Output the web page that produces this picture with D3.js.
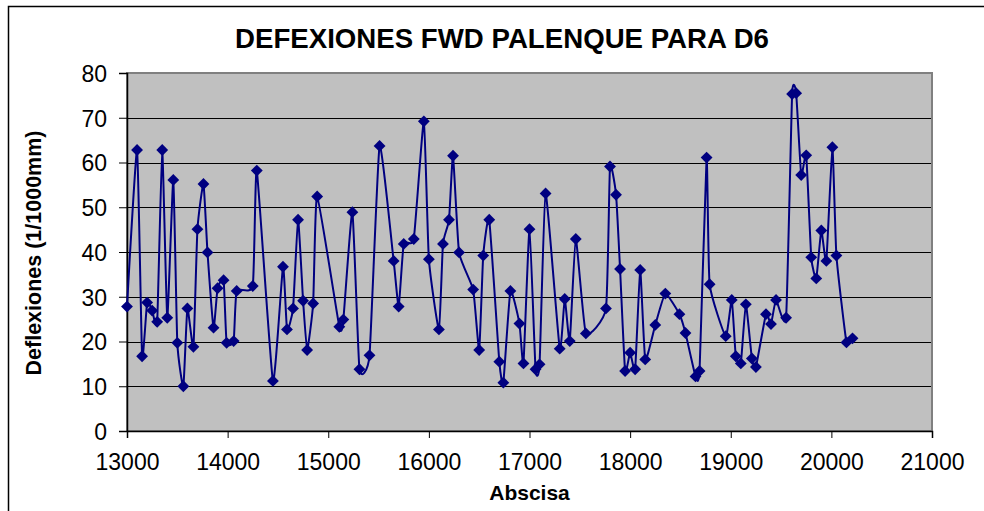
<!DOCTYPE html>
<html>
<head>
<meta charset="utf-8">
<script src="https://cdn.jsdelivr.net/npm/d3@7"></script>
<style>
  body { margin: 0; background: #fff; }
  text { font-family: "Liberation Sans", Arial, sans-serif; fill: #000; }
</style>
</head>
<body>
<svg id="chart" width="984" height="511"></svg>
<script>
// Abscisa (m) of each FWD station
var abscisa = [13000,13100,13150,13200,13250,13300,13350,13400,13460,13500,
  13560,13600,13660,13700,13760,13800,13860,13900,13960,13990,
  14060,14090,14250,14290,14450,14550,14590,14650,14700,14750,
  14790,14850,14890,15110,15150,15240,15310,15410,15510,15650,
  15700,15750,15850,15950,16000,16100,16140,16200,16240,16300,
  16440,16500,16540,16600,16700,16740,16810,16900,16940,17000,
  17060,17100,17160,17300,17350,17400,17460,17560,17760,17800,
  17860,17900,17950,18000,18050,18100,18150,18250,18350,18490,
  18550,18650,18690,18760,18790,18950,19010,19050,19100,19150,
  19210,19250,19350,19400,19450,19550,19610,19650,19700,19750,
  19800,19850,19900,19950,20010,20050,20150,20210];

// Deflexion D6 (1/1000 mm)
var deflexiones = [27.8,62.8,16.7,28.7,26.9,24.4,62.8,25.3,56.1,19.7,
  10.0,27.4,18.8,45.1,55.2,39.9,23.1,31.9,33.7,19.7,
  20.1,31.3,32.4,58.2,11.2,36.7,22.7,27.4,47.2,29.1,
  18.1,28.5,52.4,23.3,24.9,48.9,13.8,16.9,63.7,38.0,
  27.8,41.8,42.9,69.2,38.4,22.7,41.8,47.2,61.5,39.9,
  31.6,18.1,39.2,47.2,15.5,10.8,31.3,24.0,15.1,45.1,
  13.8,14.9,53.1,18.4,29.5,20.1,42.9,21.8,27.4,59.1,
  52.8,36.2,13.4,17.5,13.8,36.0,16.0,23.7,30.7,26.1,
  21.9,12.2,13.4,61.1,32.8,21.2,29.3,16.7,15.1,28.3,
  16.2,14.3,26.1,23.9,29.3,25.3,75.3,75.5,57.2,61.6,
  38.8,34.1,44.8,38.0,63.4,39.2,19.8,20.7];

var xTicks = [13000,14000,15000,16000,17000,18000,19000,20000,21000];
var yTicks = [0,10,20,30,40,50,60,70,80];

var svg = d3.select("#chart");
var plotLeft = 127, plotRight = 932, plotTop = 73, plotBottom = 431;

//outer chart border
svg.append("rect")
  .attr("x", 8.5).attr("y", 6.5)
  .attr("width", 990).attr("height", 520)
  .attr("fill", "#fff").attr("stroke", "#000").attr("stroke-width", 1.5);

var x = d3.scaleLinear().domain([13000, 21000]).range([plotLeft, plotRight]);
var y = d3.scaleLinear().domain([0, 80]).range([plotBottom, plotTop]);

//plot area
svg.append("rect")
  .attr("x", plotLeft).attr("y", plotTop)
  .attr("width", plotRight - plotLeft).attr("height", plotBottom - plotTop)
  .attr("fill", "#c0c0c0");

//gridlines
svg.append("g").selectAll("line")
  .data(yTicks.slice(1, -1))
  .enter().append("line")
  .attr("x1", plotLeft).attr("x2", plotRight)
  .attr("y1", function(d){ return Math.round(y(d)) + 0.5; })
  .attr("y2", function(d){ return Math.round(y(d)) + 0.5; })
  .attr("stroke", "#000").attr("stroke-width", 1);

//plot border (gray)
svg.append("rect")
  .attr("x", plotLeft).attr("y", plotTop)
  .attr("width", plotRight - plotLeft).attr("height", plotBottom - plotTop)
  .attr("fill", "none").attr("stroke", "#808080").attr("stroke-width", 2);

//axes
var xAxis = svg.append("g")
  .attr("transform", "translate(0," + plotBottom + ")")
  .call(d3.axisBottom(x).tickValues(xTicks).tickSize(7).tickPadding(16).tickFormat(d3.format("d")));
var yAxis = svg.append("g")
  .attr("transform", "translate(" + plotLeft + ",0)")
  .call(d3.axisLeft(y).tickValues(yTicks).tickSize(8).tickPadding(12));

[xAxis, yAxis].forEach(function(a){
  a.select(".domain").attr("stroke", "#000").attr("stroke-width", 1.5);
  a.selectAll(".tick line").attr("stroke", "#000");
  a.selectAll(".tick text")
    .attr("font-family", "Liberation Sans, Arial, sans-serif")
    .attr("font-size", 23).attr("fill", "#000");
});
yAxis.selectAll(".tick text").attr("dy", "0.36em");

//smoothed line
var pts = abscisa.map(function(d, i){ return [d, deflexiones[i]]; });
var line = d3.line()
  .x(function(d){ return x(d[0]); })
  .y(function(d){ return y(d[1]); })
  .curve(d3.curveCardinal.tension(0.55));

svg.append("path")
  .datum(pts)
  .attr("d", line)
  .attr("fill", "none")
  .attr("stroke", "#000080")
  .attr("stroke-width", 2);

//diamond markers
svg.append("g").selectAll("path")
  .data(pts)
  .enter().append("path")
  .attr("d", d3.symbol(d3.symbolSquare, 70))
  .attr("transform", function(d){ return "translate(" + x(d[0]) + "," + y(d[1]) + ") rotate(45)"; })
  .attr("fill", "#000080");

//title
svg.append("text")
  .attr("x", 235).attr("y", 48)
  .attr("font-size", 27).attr("font-weight", "bold")
  .attr("textLength", 534).attr("lengthAdjust", "spacingAndGlyphs")
  .text("DEFEXIONES FWD PALENQUE PARA D6");

//axis titles
svg.append("text")
  .attr("x", (plotLeft + plotRight) / 2).attr("y", 500)
  .attr("text-anchor", "middle")
  .attr("font-size", 21).attr("font-weight", "bold")
  .text("Abscisa");

svg.append("text")
  .attr("transform", "translate(41,253) rotate(-90)")
  .attr("text-anchor", "middle")
  .attr("font-size", 21.5).attr("font-weight", "bold")
  .text("Deflexiones (1/1000mm)");
</script>
</body>
</html>
